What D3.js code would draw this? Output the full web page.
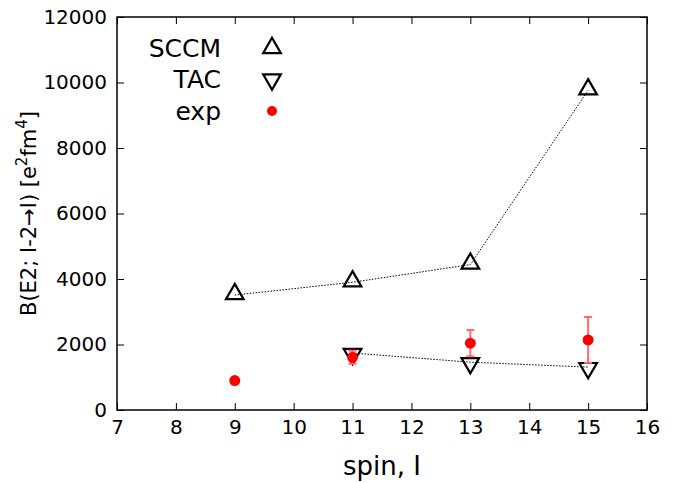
<!DOCTYPE html>
<html>
<head>
<meta charset="utf-8">
<script src="https://cdn.jsdelivr.net/npm/d3@7"></script>
<style>
  body { margin: 0; background: #fff; }
  text { font-family: "DejaVu Sans", sans-serif; fill: #000; }
</style>
</head>
<body>
<svg id="chart" width="689" height="483"></svg>
<script>
// spin values and B(E2) values
const sccmSpin = [9, 11, 13, 15];
const sccmVal = [3510, 3900, 4440, 9760];
const tacSpin = [11, 13, 15];
const tacVal = [1740, 1460, 1310];
const expSpin = [9, 11, 13, 15];
const expVal = [900, 1610, 2040, 2140];
const expErr = [0, 200, 400, 700];
const xTicks = [7, 8, 9, 10, 11, 12, 13, 14, 15, 16];
const yTicks = [0, 2000, 4000, 6000, 8000, 10000, 12000];

const svg = d3.select("#chart");
const margin = { left: 117, right: 42, top: 17, bottom: 73 };
const width = 689 - margin.left - margin.right;
const height = 483 - margin.top - margin.bottom;

const g = svg.append("g")
	.attr("transform", "translate(" + margin.left + "," + margin.top + ")");

let x = d3.scaleLinear().domain([7, 16]).range([0, width]);
let y = d3.scaleLinear().domain([0, 12000]).range([height, 0]);

// axes, ticks pointing inward on all sides
function styleAxis(sel) {
	sel.select(".domain").remove();
	sel.selectAll("line").attr("stroke", "#000").attr("stroke-width", 1);
	sel.selectAll("text").style("font-size", "20px").style("font-family", "DejaVu Sans");
}

g.append("g")
	.attr("transform", "translate(0," + height + ")")
	.call(d3.axisBottom(x).tickValues(xTicks).tickSize(-7).tickPadding(10).tickFormat(d3.format("d")))
	.call(styleAxis);

g.append("g")
	.call(d3.axisTop(x).tickValues(xTicks).tickSize(-7).tickFormat(""))
	.call(styleAxis);

g.append("g")
	.call(d3.axisLeft(y).tickValues(yTicks).tickSize(-7).tickPadding(10).tickFormat(d3.format("d")))
	.call(styleAxis);

g.append("g")
	.attr("transform", "translate(" + width + ",0)")
	.call(d3.axisRight(y).tickValues(yTicks).tickSize(-7).tickFormat(""))
	.call(styleAxis);

g.append("rect")
	.attr("width", width)
	.attr("height", height)
	.attr("fill", "none")
	.attr("stroke", "#000")
	.attr("stroke-width", 1.5);

// dotted connecting lines
const line = d3.line().x(d => x(d[0])).y(d => y(d[1]));

g.append("path")
	.datum(d3.zip(sccmSpin, sccmVal))
	.attr("d", line)
	.attr("fill", "none")
	.attr("stroke", "#000")
	.attr("stroke-width", 1)
	.attr("stroke-dasharray", "1.5,1.5");

g.append("path")
	.datum(d3.zip(tacSpin, tacVal))
	.attr("d", line)
	.attr("fill", "none")
	.attr("stroke", "#000")
	.attr("stroke-width", 1)
	.attr("stroke-dasharray", "1.5,1.5");

const triUp = d3.symbol().type(d3.symbolTriangle).size(135);

// SCCM markers
g.selectAll(".sccm")
	.data(d3.zip(sccmSpin, sccmVal))
	.enter()
	.append("path")
		.attr("class", "sccm")
		.attr("d", triUp)
		.attr("transform", d => "translate(" + x(d[0]) + "," + (y(d[1]) - 1) + ")")
		.attr("fill", "none")
		.attr("stroke", "#000")
		.attr("stroke-width", 2.2);

// TAC markers
g.selectAll(".tac")
	.data(d3.zip(tacSpin, tacVal))
	.enter()
	.append("path")
		.attr("class", "tac")
		.attr("d", triUp)
		.attr("transform", d => "translate(" + x(d[0]) + "," + (y(d[1]) + 1) + ") rotate(180)")
		.attr("fill", "none")
		.attr("stroke", "#000")
		.attr("stroke-width", 2.2);

// exp error bars
const expData = expSpin.map((s, i) => ({ s: s, v: expVal[i], e: expErr[i] }));
const errG = g.append("g").attr("stroke", "#ff6b6b").attr("stroke-width", 2);
expData.filter(d => d.e > 0).forEach(d => {
	errG.append("line")
		.attr("x1", x(d.s)).attr("x2", x(d.s))
		.attr("y1", y(d.v - d.e)).attr("y2", y(d.v + d.e));
	[d.v - d.e, d.v + d.e].forEach(v => {
		errG.append("line")
			.attr("x1", x(d.s) - 4).attr("x2", x(d.s) + 4)
			.attr("y1", y(v)).attr("y2", y(v));
	});
});

// exp points
g.selectAll(".exp")
	.data(expData)
	.enter()
	.append("circle")
		.attr("class", "exp")
		.attr("cx", d => x(d.s))
		.attr("cy", d => y(d.v))
		.attr("r", 5.5)
		.attr("fill", "#ff0000");

// legend
const legend = svg.append("g");
const legItems = ["SCCM", "TAC", "exp"];
legItems.forEach((name, i) => {
	let ly = 48 + i * 31.5;
	legend.append("text")
		.attr("x", 221)
		.attr("y", ly)
		.attr("dy", "0.35em")
		.attr("text-anchor", "end")
		.style("font-size", "25px")
		.text(name);
	if (i === 2) {
		legend.append("circle").attr("cx", 272).attr("cy", ly).attr("r", 5).attr("fill", "#ff0000");
	} else {
		legend.append("path")
			.attr("d", triUp)
			.attr("transform", "translate(272," + ly + ")" + (i === 1 ? " rotate(180)" : ""))
			.attr("fill", "none")
			.attr("stroke", "#000")
			.attr("stroke-width", 2.2);
	}
});

// axis labels
svg.append("text")
	.attr("x", margin.left + width / 2)
	.attr("y", 475)
	.attr("text-anchor", "middle")
	.style("font-size", "26px")
	.text("spin, I");

const yl = svg.append("text")
	.attr("transform", "translate(36," + (margin.top + height / 2) + ") rotate(-90)")
	.attr("text-anchor", "middle")
	.style("font-size", "21px");
yl.append("tspan").text("B(E2; I-2\u2192I) [e");
yl.append("tspan").attr("baseline-shift", "super").style("font-size", "15px").text("2");
yl.append("tspan").text("fm");
yl.append("tspan").attr("baseline-shift", "super").style("font-size", "15px").text("4");
yl.append("tspan").text("]");
</script>
</body>
</html>
